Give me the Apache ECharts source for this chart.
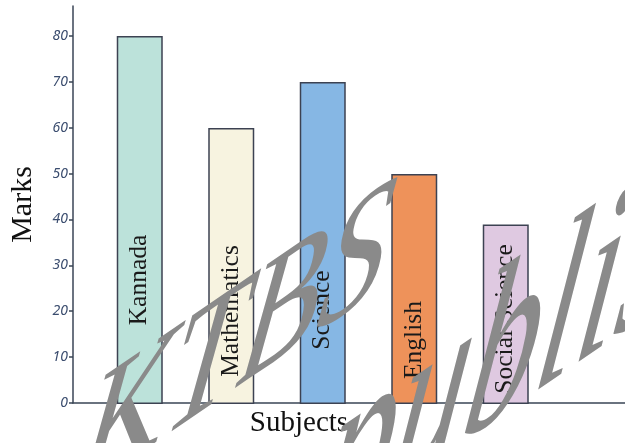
<!DOCTYPE html>
<html>
<head>
<meta charset="utf-8">
<script src="https://cdn.jsdelivr.net/npm/echarts@6/dist/echarts.min.js"></script>
<style>
  html, body { margin: 0; padding: 0; background: #ffffff; }
  #chart { width: 625px; height: 443px; }
</style>
</head>
<body>
<div id="chart"></div>
<script>
// ---- data ----
const subjects = ['Kannada', 'Mathematics', 'Science', 'English', 'Social Science'];
const marks = [80, 60, 70, 50, 39];
const yTicks = [0, 10, 20, 30, 40, 50, 60, 70, 80];
const yName = 'Marks';
const xName = 'Subjects';
const watermarkLine1 = 'KTBS';
const watermarkLine2 = 'published';

// ---- styles (not data) ----
const barColors = ['#bce2da', '#f7f3e0', '#86b7e4', '#ee925a', '#dfc9e1'];
const labelRise = [124, 93, 94, 64, 85];

const yMax = 86.5;
const chart = echarts.init(document.getElementById('chart'), null, { renderer: 'canvas' });

const axisColor = '#3a4556';
const wmBase = { fill: '#8a8a8a', blend: 'multiply', align: 'left', verticalAlign: 'bottom' };

chart.setOption({
  animation: false,
  backgroundColor: '#ffffff',
  grid: [
    { left: 72, right: 0, top: 6, bottom: 39, containLabel: false },
    { left: 94, width: 457.5, top: 6, bottom: 39, containLabel: false }
  ],
  xAxis: [
    {
      gridIndex: 0, type: 'value', min: 0, max: 1,
      axisLine: { show: true, lineStyle: { color: axisColor, width: 1.5 } },
      axisTick: { show: false }, axisLabel: { show: false }, splitLine: { show: false },
      name: xName, nameLocation: 'middle', nameGap: 6,
      nameTextStyle: { fontFamily: 'Liberation Serif', fontSize: 29, color: '#111111', padding: [0, 100, 0, 0], verticalAlign: 'top' }
    },
    {
      gridIndex: 1, type: 'category', data: subjects, show: false
    }
  ],
  yAxis: [
    {
      gridIndex: 0, type: 'value', min: 0, max: yMax,
      axisLine: { show: true, lineStyle: { color: axisColor, width: 1.5 } },
      axisTick: { show: true, length: 4, customValues: yTicks, lineStyle: { color: axisColor, width: 1.5 } },
      axisLabel: { customValues: yTicks, margin: 5, fontFamily: 'Noto Sans', fontStyle: 'italic', fontSize: 14, color: '#3a4c6e' },
      splitLine: { show: false },
      name: yName, nameLocation: 'middle', nameRotate: 90, nameGap: 35,
      nameTextStyle: { fontFamily: 'Liberation Serif', fontSize: 30, color: '#111111' }
    },
    {
      gridIndex: 1, type: 'value', min: 0, max: yMax, show: false
    }
  ],
  series: [{
    type: 'bar',
    xAxisIndex: 1, yAxisIndex: 1,
    barWidth: 46,
    data: marks.map((v, i) => ({
      value: v,
      itemStyle: { color: barColors[i] },
      label: { distance: labelRise[i] }
    })),
    itemStyle: { borderColor: '#3c4252', borderWidth: 1.5 },
    label: {
      show: true,
      position: 'insideBottom',
      rotate: 90,
      align: 'center',
      verticalAlign: 'middle',
      formatter: (p) => subjects[p.dataIndex],
      fontFamily: 'Liberation Serif',
      fontSize: 25.5,
      color: '#1a1a1a'
    }
  }],
  graphic: [
    {
      type: 'text', x: 65, y: 541, rotation: 0.6, skewX: -0.77, scaleY: 0.8, z: 100, silent: true,
      style: Object.assign({ text: watermarkLine1, font: 'italic 160px "Liberation Serif"' }, wmBase)
    },
    {
      type: 'text', x: 304, y: 600, rotation: 0.6, skewX: -0.77, z: 100, silent: true,
      style: Object.assign({ text: watermarkLine2, font: 'italic 175px "Liberation Serif"' }, wmBase)
    }
  ]
});
</script>
</body>
</html>
